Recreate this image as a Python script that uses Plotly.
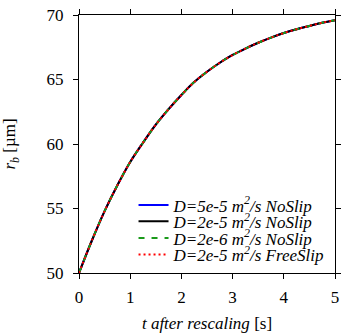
import plotly.graph_objects as go

t = [0, 0.25, 0.5, 0.75, 1, 1.25, 1.5, 1.75, 2, 2.25, 2.5, 2.75, 3, 3.25, 3.5, 3.75, 4, 4.25, 4.5, 4.75, 5]
r_D5e5_noslip = [50.0, 52.5, 54.8, 56.8, 58.6, 60.1, 61.5, 62.7, 63.8, 64.8, 65.6, 66.3, 66.9, 67.4, 67.85, 68.25, 68.6, 68.9, 69.15, 69.4, 69.6]
r_D2e5_noslip = [50.0, 52.5, 54.8, 56.8, 58.6, 60.1, 61.5, 62.7, 63.8, 64.8, 65.6, 66.3, 66.9, 67.4, 67.85, 68.25, 68.6, 68.9, 69.15, 69.4, 69.6]
r_D2e6_noslip = [50.0, 52.5, 54.8, 56.8, 58.6, 60.1, 61.5, 62.7, 63.8, 64.8, 65.6, 66.3, 66.9, 67.4, 67.85, 68.25, 68.6, 68.9, 69.15, 69.4, 69.6]
r_D2e5_freeslip = [50.0, 52.5, 54.8, 56.8, 58.6, 60.1, 61.5, 62.7, 63.8, 64.8, 65.6, 66.3, 66.9, 67.4, 67.85, 68.25, 68.6, 68.9, 69.15, 69.4, 69.6]

names = [
    "<i>D=5e-5 m<sup>2</sup>/s NoSlip</i>",
    "<i>D=2e-5 m<sup>2</sup>/s NoSlip</i>",
    "<i>D=2e-6 m<sup>2</sup>/s NoSlip</i>",
    "<i>D=2e-5 m<sup>2</sup>/s FreeSlip</i>",
]
series = [r_D5e5_noslip, r_D2e5_noslip, r_D2e6_noslip, r_D2e5_freeslip]
colors = ["#0000ff", "#000000", "#1a9a1a", "#ff0000"]
dashes = ["solid", "solid", "6px,7px", "2px,3px"]
legends = ["legend", "legend2", "legend3", "legend4"]
leg_y = [0.262, 0.199, 0.134, 0.070]

FONT = "Liberation Serif"
fig = go.Figure()
for nm, ys, c, d, lg in zip(names, series, colors, dashes, legends):
    fig.add_trace(go.Scatter(x=t, y=ys, mode="lines", name=nm,
                             line=dict(color=c, width=2, dash=d, shape="spline"),
                             legend=lg))

leg_common = dict(x=0.213, xanchor="left", yanchor="middle", bgcolor="rgba(0,0,0,0)",
                  borderwidth=0, font=dict(family=FONT, size=17, color="black"))
layout_legs = {}
for lg, yy in zip(legends, leg_y):
    layout_legs[lg] = dict(y=yy, **leg_common)

axis_common = dict(showline=True, linecolor="black", linewidth=1, mirror="ticks",
                   ticks="outside", ticklen=5, tickcolor="black", tickwidth=1,
                   showgrid=False, zeroline=False,
                   tickfont=dict(family=FONT, size=17, color="black"))

fig.update_layout(
    width=347, height=335,
    margin=dict(l=79, r=6, t=15, b=58),
    paper_bgcolor="white", plot_bgcolor="white",
    font=dict(family=FONT, size=17, color="black"),
    showlegend=True,
    xaxis=dict(range=[0, 5], dtick=1, tick0=0, ticklabelstandoff=4,
               title=dict(text="<i>t after rescaling</i> [s]", font=dict(family=FONT, size=17, color="black"), standoff=10),
               **axis_common),
    yaxis=dict(range=[50, 70], dtick=5, tick0=50, ticklabelstandoff=6,
               title=dict(text="<i>r<sub>b</sub></i> [µm]", font=dict(family=FONT, size=17, color="black"), standoff=26),
               **axis_common),
    **layout_legs,
)

fig.write_html("out.html")
